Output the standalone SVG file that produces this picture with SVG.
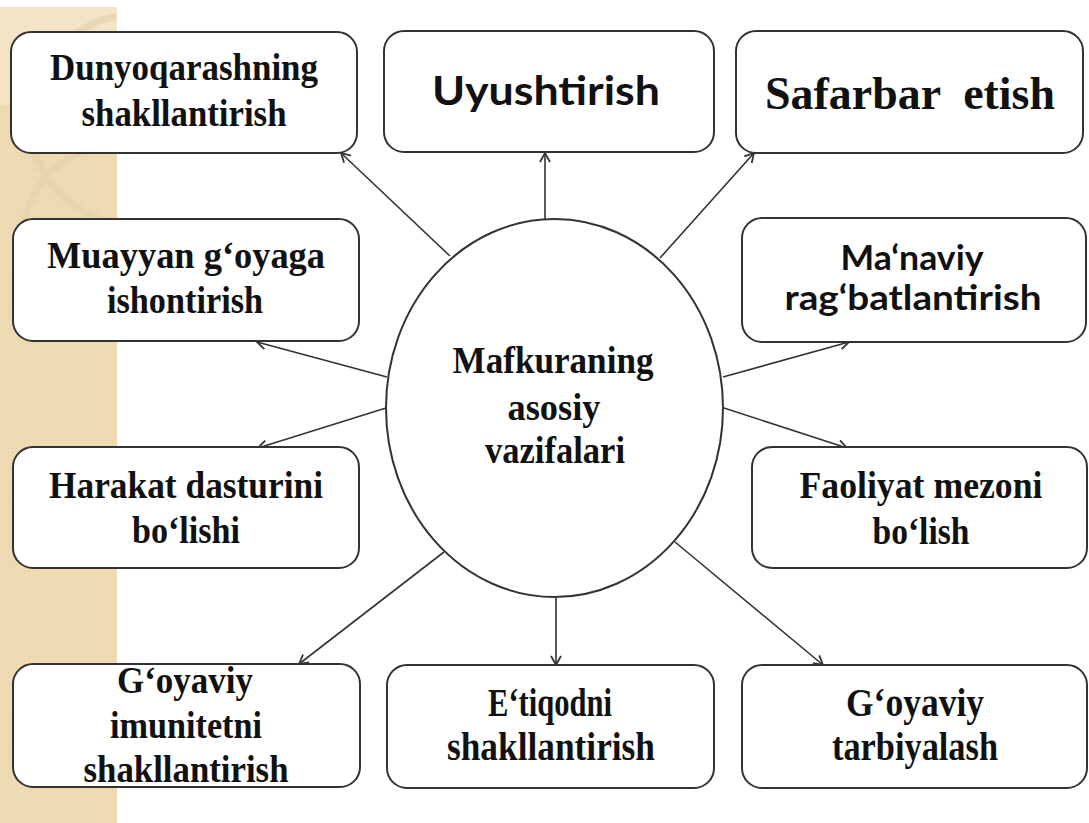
<svg xmlns="http://www.w3.org/2000/svg" width="1089" height="823" viewBox="0 0 1089 823">
<defs>
<style>
.box{fill:#fff;stroke:#333;stroke-width:2}
.t{font-family:"Liberation Serif","Times New Roman",serif;font-weight:bold;font-size:38px;fill:#111;text-anchor:middle}
.s{font-family:Lato,"Open Sans",sans-serif;font-weight:bold;fill:#111;text-anchor:middle}
.c{stroke:#333;stroke-width:1.6;fill:none;marker-end:url(#ah)}
</style>
<marker id="ah" markerUnits="userSpaceOnUse" markerWidth="14" markerHeight="14" viewBox="-12 -7 14 14" refX="0" refY="0" orient="auto">
<path d="M-9,-5 L0,0 L-9,5" fill="none" stroke="#333" stroke-width="1.8"/>
</marker>
<pattern id="dots" width="4" height="4" patternUnits="userSpaceOnUse">
<rect width="4" height="4" fill="#efdbb3"/>
<rect width="1" height="1" fill="#e6d0a4"/>
</pattern>
<clipPath id="stripe"><rect x="0" y="7" width="117" height="816"/></clipPath>
</defs>
<rect width="1089" height="823" fill="#fff"/>
<g id="background">
<rect x="0" y="7" width="117" height="816" fill="url(#dots)"/>
<rect x="0" y="7" width="117" height="98" fill="#f4e6c9" opacity="0.8"/>
<g clip-path="url(#stripe)" fill="none" stroke="#e2d2ad" stroke-width="7" opacity="0.6">
<circle cx="135" cy="120" r="105"/>
<circle cx="112" cy="235" r="88"/>
</g>
</g>
<g id="connectors">
<line class="c" x1="450" y1="256" x2="341" y2="153"/>
<line class="c" x1="545" y1="219" x2="545" y2="153"/>
<line class="c" x1="660" y1="258" x2="754" y2="153"/>
<line class="c" x1="387" y1="377" x2="257" y2="342"/>
<line class="c" x1="723" y1="377" x2="849" y2="342"/>
<line class="c" x1="386" y1="408" x2="258" y2="448"/>
<line class="c" x1="724" y1="408" x2="847" y2="448"/>
<line class="c" x1="444" y1="552" x2="299" y2="664"/>
<line class="c" x1="556" y1="597" x2="556" y2="665"/>
<line class="c" x1="675" y1="542" x2="823" y2="665"/>
</g>
<g id="center">
<ellipse cx="554.5" cy="408" rx="168.5" ry="189" fill="#fff" stroke="#333" stroke-width="2"/>
<text class="t" x="553" y="373" textLength="201" lengthAdjust="spacingAndGlyphs">Mafkuraning</text>
<text class="t" x="554" y="420" textLength="93" lengthAdjust="spacingAndGlyphs">asosiy</text>
<text class="t" x="555" y="463" textLength="140" lengthAdjust="spacingAndGlyphs">vazifalari</text>
</g>
<g id="n-dunyoqarash">
<rect class="box" x="11" y="32" width="346" height="121" rx="20"/>
<text class="t" x="184" y="80" textLength="268" lengthAdjust="spacingAndGlyphs">Dunyoqarashning</text>
<text class="t" x="184" y="126" textLength="205" lengthAdjust="spacingAndGlyphs">shakllantirish</text>
</g>
<g id="n-uyushtirish">
<rect class="box" x="384" y="31" width="330" height="121" rx="20"/>
<text class="s" x="546" y="105" font-size="40" textLength="228" lengthAdjust="spacingAndGlyphs">Uyushtirish</text>
</g>
<g id="n-safarbar">
<rect class="box" x="736" y="31" width="347" height="122" rx="20"/>
<text class="t" x="910" y="109" style="font-size:47px" textLength="290" lengthAdjust="spacingAndGlyphs" xml:space="preserve">Safarbar  etish</text>
</g>
<g id="n-muayyan">
<rect class="box" x="13" y="219" width="346" height="122" rx="20"/>
<text class="t" x="186" y="268" textLength="278" lengthAdjust="spacingAndGlyphs">Muayyan g‘oyaga</text>
<text class="t" x="185" y="313" textLength="156" lengthAdjust="spacingAndGlyphs">ishontirish</text>
</g>
<g id="n-manaviy">
<rect class="box" x="742" y="218" width="344" height="124" rx="20"/>
<text class="s" x="912" y="270" font-size="34" textLength="143" lengthAdjust="spacingAndGlyphs">Ma‘naviy</text>
<text class="s" x="913" y="310" font-size="34" textLength="257" lengthAdjust="spacingAndGlyphs">rag‘batlantirish</text>
</g>
<g id="n-harakat">
<rect class="box" x="13" y="447" width="346" height="121" rx="20"/>
<text class="t" x="186" y="498" textLength="274" lengthAdjust="spacingAndGlyphs">Harakat dasturini</text>
<text class="t" x="186" y="543" textLength="108" lengthAdjust="spacingAndGlyphs">bo‘lishi</text>
</g>
<g id="n-faoliyat">
<rect class="box" x="752" y="447" width="335" height="121" rx="20"/>
<text class="t" x="921" y="498" textLength="243" lengthAdjust="spacingAndGlyphs">Faoliyat mezoni</text>
<text class="t" x="921" y="544" textLength="97" lengthAdjust="spacingAndGlyphs">bo‘lish</text>
</g>
<g id="n-immunitet">
<rect class="box" x="13" y="664" width="347" height="123" rx="20"/>
<text class="t" x="185" y="693" textLength="136" lengthAdjust="spacingAndGlyphs">G‘oyaviy</text>
<text class="t" x="186" y="738" textLength="152" lengthAdjust="spacingAndGlyphs">imunitetni</text>
<text class="t" x="186" y="782" textLength="205" lengthAdjust="spacingAndGlyphs">shakllantirish</text>
</g>
<g id="n-etiqod">
<rect class="box" x="387" y="665" width="327" height="123" rx="20"/>
<text class="t" x="550" y="716" style="font-size:40px" textLength="124" lengthAdjust="spacingAndGlyphs">E‘tiqodni</text>
<text class="t" x="551" y="760" style="font-size:40px" textLength="208" lengthAdjust="spacingAndGlyphs">shakllantirish</text>
</g>
<g id="n-tarbiya">
<rect class="box" x="742" y="665" width="345" height="123" rx="20"/>
<text class="t" x="915" y="716" style="font-size:40px" textLength="138" lengthAdjust="spacingAndGlyphs">G‘oyaviy</text>
<text class="t" x="915" y="760" style="font-size:40px" textLength="166" lengthAdjust="spacingAndGlyphs">tarbiyalash</text>
</g>
</svg>
